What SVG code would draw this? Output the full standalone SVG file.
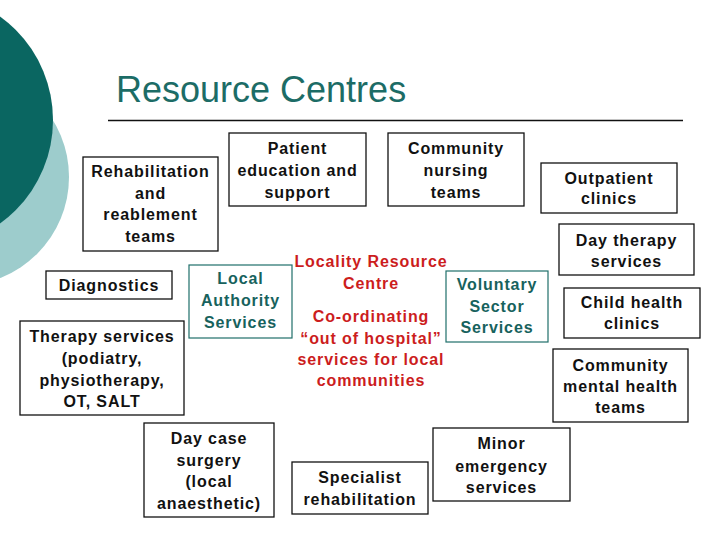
<svg xmlns="http://www.w3.org/2000/svg" width="720" height="540" viewBox="0 0 720 540">
<style>
.box{fill:#fff;stroke:#111;stroke-width:1.3}
.tbox{fill:#fff;stroke:#1f6f6a;stroke-width:1.2}
text{font-family:"Liberation Sans",Arial,sans-serif;font-size:16px;font-weight:bold;text-anchor:middle;letter-spacing:0.9px}
.k{fill:#111}
.t{fill:#17625d}
.r{fill:#cc1d1d}
.title{font-size:36px;font-weight:normal;text-anchor:start;fill:#1c6c66;letter-spacing:0}
</style>
<rect width="720" height="540" fill="#fff"/>
<g id="decor">
<circle cx="-39.4" cy="177" r="108.4" fill="#9dcccc"/>
<circle cx="-74.6" cy="120" r="127.6" fill="#0a6661"/>
<text class="title" x="116" y="102">Resource Centres</text>
<line x1="108" y1="120.5" x2="683" y2="120.5" stroke="#111" stroke-width="1.3"/>
</g>
<g id="connectors"/>
<g id="rehab"><rect class="box" x="83" y="157" width="135" height="94"/>
<text class="k" x="150.5" y="177">Rehabilitation</text><text class="k" x="150.5" y="199">and</text><text class="k" x="150.5" y="220">reablement</text><text class="k" x="150.5" y="242">teams</text></g>
<g id="patient"><rect class="box" x="229" y="133" width="137" height="73"/>
<text class="k" x="297.5" y="154">Patient</text><text class="k" x="297.5" y="176">education and</text><text class="k" x="297.5" y="198">support</text></g>
<g id="nursing"><rect class="box" x="388" y="133" width="136" height="73"/>
<text class="k" x="456" y="154">Community</text><text class="k" x="456" y="176">nursing</text><text class="k" x="456" y="198">teams</text></g>
<g id="outpatient"><rect class="box" x="541" y="163" width="136" height="50"/>
<text class="k" x="609" y="184">Outpatient</text><text class="k" x="609" y="204">clinics</text></g>
<g id="daytherapy"><rect class="box" x="559" y="224" width="135" height="51"/>
<text class="k" x="626.5" y="246">Day therapy</text><text class="k" x="626.5" y="267">services</text></g>
<g id="diagnostics"><rect class="box" x="46" y="271" width="126" height="28"/>
<text class="k" x="109" y="291">Diagnostics</text></g>
<g id="therapy"><rect class="box" x="20" y="321" width="164" height="94"/>
<text class="k" x="102" y="342">Therapy services</text><text class="k" x="102" y="364">(podiatry,</text><text class="k" x="102" y="386">physiotherapy,</text><text class="k" x="102" y="407">OT, SALT</text></g>
<g id="localauthority"><rect class="tbox" x="189" y="265" width="103" height="73"/>
<text class="t" x="240.5" y="284">Local</text><text class="t" x="240.5" y="306">Authority</text><text class="t" x="240.5" y="328">Services</text></g>
<g id="centre">
<text class="r" x="371" y="267">Locality Resource</text><text class="r" x="371" y="289">Centre</text>
<text class="r" x="371" y="322">Co-ordinating</text><text class="r" x="371" y="344">“out of hospital”</text><text class="r" x="371" y="365">services for local</text><text class="r" x="371" y="386">communities</text></g>
<g id="voluntary"><rect class="tbox" x="446" y="271" width="102" height="71"/>
<text class="t" x="497" y="290">Voluntary</text><text class="t" x="497" y="312">Sector</text><text class="t" x="497" y="333">Services</text></g>
<g id="child"><rect class="box" x="564" y="288" width="136" height="50"/>
<text class="k" x="632" y="308">Child health</text><text class="k" x="632" y="329">clinics</text></g>
<g id="mental"><rect class="box" x="553" y="349" width="135" height="73"/>
<text class="k" x="620.5" y="371">Community</text><text class="k" x="620.5" y="392">mental health</text><text class="k" x="620.5" y="413">teams</text></g>
<g id="daycase"><rect class="box" x="144" y="423" width="130" height="94"/>
<text class="k" x="209" y="444">Day case</text><text class="k" x="209" y="466">surgery</text><text class="k" x="209" y="487">(local</text><text class="k" x="209" y="509">anaesthetic)</text></g>
<g id="specialist"><rect class="box" x="292" y="462" width="136" height="52"/>
<text class="k" x="360" y="483">Specialist</text><text class="k" x="360" y="505">rehabilitation</text></g>
<g id="minor"><rect class="box" x="433" y="428" width="137" height="73"/>
<text class="k" x="501.5" y="449">Minor</text><text class="k" x="501.5" y="472">emergency</text><text class="k" x="501.5" y="493">services</text></g>
</svg>
